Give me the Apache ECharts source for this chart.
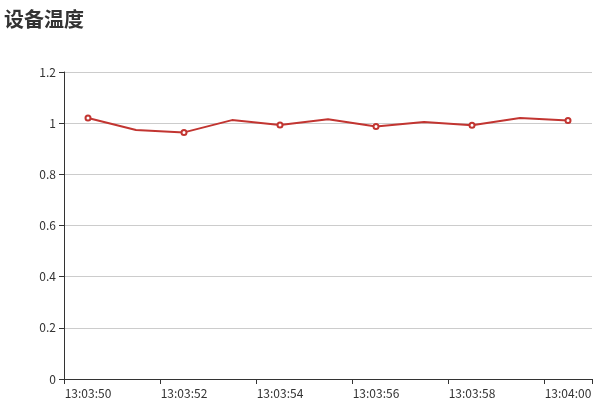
<!DOCTYPE html>
<html>
<head>
<meta charset="utf-8">
<script src="https://cdn.jsdelivr.net/npm/echarts@6/dist/echarts.min.js"></script>
<style>html,body{margin:0;padding:0;background:#fff}#c{width:614px;height:416px}</style>
</head>
<body>
<div id="c"></div>
<script>
var titleText = '设备温度';
var categories = ['13:03:50','13:03:51','13:03:52','13:03:53','13:03:54','13:03:55','13:03:56','13:03:57','13:03:58','13:03:59','13:04:00'];
var temperature = [1.020, 0.973, 0.964, 1.012, 0.993, 1.015, 0.987, 1.005, 0.992, 1.020, 1.010];
var yMin = 0, yMax = 1.2, yStep = 0.2;

var chart = echarts.init(document.getElementById('c'), null, {renderer: 'canvas'});
chart.setOption({
  animation: false,
  textStyle: {fontFamily: '"Noto Sans CJK SC", "Noto Sans", sans-serif'},
  title: {
    text: titleText, left: -1, top: 4,
    textStyle: {fontSize: 20, fontWeight: 'bold', color: '#333', fontFamily: '"Noto Sans CJK SC", sans-serif'}
  },
  grid: {left: 64, right: 22, top: 72, bottom: 37, containLabel: false},
  xAxis: {
    type: 'category', data: categories, boundaryGap: true,
    axisLine: {show: true, lineStyle: {color: '#333'}},
    axisTick: {show: true, lineStyle: {color: '#333'}},
    axisLabel: {color: '#333', fontSize: 12, margin: 8},
    splitLine: {show: false}
  },
  yAxis: {
    type: 'value', min: yMin, max: yMax, interval: yStep,
    axisLine: {show: true, lineStyle: {color: '#333'}},
    axisTick: {show: true, lineStyle: {color: '#333'}},
    axisLabel: {color: '#333', fontSize: 12, margin: 8},
    splitLine: {show: true, lineStyle: {color: '#ccc'}}
  },
  series: [{
    type: 'line', data: temperature,
    symbol: 'emptyCircle', symbolSize: 5, showAllSymbol: false,
    itemStyle: {color: '#c23531', borderWidth: 1},
    lineStyle: {color: '#c23531', width: 2}
  }]
});
</script>
</body>
</html>
